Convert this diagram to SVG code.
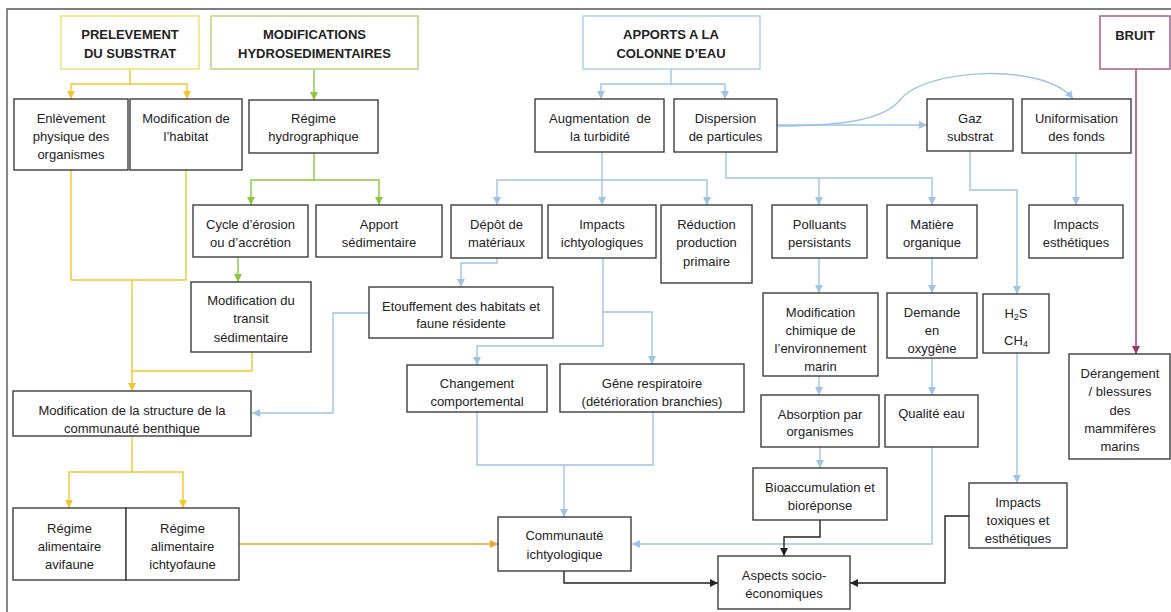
<svg xmlns="http://www.w3.org/2000/svg" width="1171" height="612" viewBox="0 0 1171 612">
<style>
text{font-family:"Liberation Sans",Arial,sans-serif;font-size:13px;fill:#222;text-anchor:middle}
.t{font-weight:bold}
.box{fill:#fff;stroke:#3c3c3c;stroke-width:1.4}
.c{fill:none;stroke-width:1.4}
.y{stroke:#f2c62e}
.g{stroke:#8cc63f}
.b{stroke:#9dc3e6}
.p{stroke:#9c3566}
.o{stroke:#f5a031}
.k{stroke:#222}
</style>
<defs>
<marker id="ay" viewBox="0 0 10 10" refX="10" refY="5" markerWidth="8" markerHeight="8" markerUnits="userSpaceOnUse" orient="auto"><path d="M0,0 L10,5 L0,10 z" fill="#f2c62e"/></marker>
<marker id="ag" viewBox="0 0 10 10" refX="10" refY="5" markerWidth="8" markerHeight="8" markerUnits="userSpaceOnUse" orient="auto"><path d="M0,0 L10,5 L0,10 z" fill="#8cc63f"/></marker>
<marker id="ab" viewBox="0 0 10 10" refX="10" refY="5" markerWidth="8" markerHeight="8" markerUnits="userSpaceOnUse" orient="auto"><path d="M0,0 L10,5 L0,10 z" fill="#9dc3e6"/></marker>
<marker id="ap" viewBox="0 0 10 10" refX="10" refY="5" markerWidth="8" markerHeight="8" markerUnits="userSpaceOnUse" orient="auto"><path d="M0,0 L10,5 L0,10 z" fill="#9c3566"/></marker>
<marker id="ao" viewBox="0 0 10 10" refX="10" refY="5" markerWidth="8" markerHeight="8" markerUnits="userSpaceOnUse" orient="auto"><path d="M0,0 L10,5 L0,10 z" fill="#f5a031"/></marker>
<marker id="ak" viewBox="0 0 10 10" refX="10" refY="5" markerWidth="8" markerHeight="8" markerUnits="userSpaceOnUse" orient="auto"><path d="M0,0 L10,5 L0,10 z" fill="#222"/></marker>
</defs>
<rect width="1171" height="612" fill="#fff"/>
<path d="M7,612 V9 H1171" fill="none" stroke="#555" stroke-width="1.4"/>

<g id="connectors">
<path class="c y" d="M130,69 V84 H71 V99" marker-end="url(#ay)"/>
<path class="c y" d="M130,84 H187 V99" marker-end="url(#ay)"/>
<path class="c y" d="M71,170 V280 H186 V170"/>
<path class="c y" d="M132,280 V391" marker-end="url(#ay)"/>
<path class="c y" d="M252,352 V371 H132"/>
<path class="c y" d="M132,436 V472 H69 V508" marker-end="url(#ay)"/>
<path class="c y" d="M132,472 H183 V508" marker-end="url(#ay)"/>

<path class="c g" d="M314,69 V100" marker-end="url(#ag)"/>
<path class="c g" d="M314,153 V180 H251 V205" marker-end="url(#ag)"/>
<path class="c g" d="M314,180 H379 V205" marker-end="url(#ag)"/>
<path class="c g" d="M238,257 V282" marker-end="url(#ag)"/>

<path class="c b" d="M671,69 V84 H601 V99" marker-end="url(#ab)"/>
<path class="c b" d="M671,84 H725 V99" marker-end="url(#ab)"/>
<path class="c b" d="M602,152 V205" marker-end="url(#ab)"/>
<path class="c b" d="M602,180 H497 V205" marker-end="url(#ab)"/>
<path class="c b" d="M602,180 H707 V205" marker-end="url(#ab)"/>
<path class="c b" d="M726,152 V178 H932 V205" marker-end="url(#ab)"/>
<path class="c b" d="M819,178 V205" marker-end="url(#ab)"/>
<path class="c b" d="M777,125 H927" marker-end="url(#ab)"/>
<path class="c b" d="M777,126 C850,126 885,118 900,100 C925,68 1045,62 1073,99" marker-end="url(#ab)"/>
<path class="c b" d="M970,151 V190 H1017 V294" marker-end="url(#ab)"/>
<path class="c b" d="M1076,153 V205" marker-end="url(#ab)"/>
<path class="c b" d="M497,258 V263 H461 V287" marker-end="url(#ab)"/>
<path class="c b" d="M369,313 H333 V413 H252" marker-end="url(#ab)"/>
<path class="c b" d="M603,258 V346 H477 V365" marker-end="url(#ab)"/>
<path class="c b" d="M603,312 H652 V364" marker-end="url(#ab)"/>
<path class="c b" d="M819,258 V293" marker-end="url(#ab)"/>
<path class="c b" d="M819,376 V395" marker-end="url(#ab)"/>
<path class="c b" d="M820,447 V468" marker-end="url(#ab)"/>
<path class="c b" d="M932,258 V293" marker-end="url(#ab)"/>
<path class="c b" d="M932,358 V395" marker-end="url(#ab)"/>
<path class="c b" d="M932,447 V544 H632" marker-end="url(#ab)"/>
<path class="c b" d="M1017,353 V483" marker-end="url(#ab)"/>
<path class="c b" d="M477,412 V465 H653 V412"/>
<path class="c b" d="M564,465 V517" marker-end="url(#ab)"/>

<path class="c p" d="M1136,69 V354" marker-end="url(#ap)"/>
<path class="c o" d="M239,544 H498" marker-end="url(#ao)"/>

<path class="c k" d="M820,520 V537 H784 V556" marker-end="url(#ak)"/>
<path class="c k" d="M564,571 V583 H718" marker-end="url(#ak)"/>
<path class="c k" d="M969,516 H945 V583 H850" marker-end="url(#ak)"/>
</g>

<g id="prelevement"><rect x="61" y="16" width="138" height="53" fill="#fff" stroke="#f5e07a" stroke-width="1.6"/><text class="t" x="130" y="39">PRELEVEMENT</text><text class="t" x="130" y="58">DU SUBSTRAT</text></g>
<g id="modifications"><rect x="211" y="16" width="207" height="53" fill="#fff" stroke="#bcd97c" stroke-width="1.6"/><text class="t" x="314.5" y="39">MODIFICATIONS</text><text class="t" x="314.5" y="58">HYDROSEDIMENTAIRES</text></g>
<g id="apports"><rect x="583" y="16" width="177" height="53" fill="#fff" stroke="#b3d2ee" stroke-width="1.6"/><text class="t" x="671" y="39">APPORTS A LA</text><text class="t" x="671" y="58">COLONNE D’EAU</text></g>
<g id="bruit"><rect x="1100" y="16" width="70" height="53" fill="#fff" stroke="#a86c8e" stroke-width="1.6"/><text class="t" x="1135" y="40">BRUIT</text></g>

<g id="enlevement"><rect class="box" x="14" y="99" width="114" height="71"/><text x="71" y="123">Enlèvement</text><text x="71" y="141">physique des</text><text x="71" y="159">organismes</text></g>
<g id="habitat"><rect class="box" x="130" y="99" width="112" height="71"/><text x="186" y="123">Modification de</text><text x="186" y="141">l’habitat</text></g>
<g id="regime-hydro"><rect class="box" x="249" y="100" width="129" height="53"/><text x="313.5" y="123">Régime</text><text x="313.5" y="141">hydrographique</text></g>
<g id="augmentation"><rect class="box" x="535" y="99" width="129" height="53"/><text x="600" y="123" xml:space="preserve">Augmentation  de</text><text x="600" y="141">la turbidité</text></g>
<g id="dispersion"><rect class="box" x="674" y="99" width="103" height="53"/><text x="725.5" y="123">Dispersion</text><text x="725.5" y="141">de particules</text></g>
<g id="gaz"><rect class="box" x="927" y="99" width="86" height="52"/><text x="970" y="123">Gaz</text><text x="970" y="141">substrat</text></g>
<g id="uniformisation"><rect class="box" x="1022" y="99" width="109" height="54"/><text x="1076.5" y="123">Uniformisation</text><text x="1076.5" y="141">des fonds</text></g>

<g id="cycle"><rect class="box" x="193" y="205" width="115" height="52"/><text x="250.5" y="229">Cycle d’érosion</text><text x="250.5" y="247">ou d’accrétion</text></g>
<g id="apport"><rect class="box" x="316" y="205" width="126" height="52"/><text x="379" y="229">Apport</text><text x="379" y="247">sédimentaire</text></g>
<g id="depot"><rect class="box" x="451" y="205" width="91" height="53"/><text x="496.5" y="229">Dépôt de</text><text x="496.5" y="247">matériaux</text></g>
<g id="impacts-ichtyo"><rect class="box" x="548" y="205" width="108" height="53"/><text x="602" y="229">Impacts</text><text x="602" y="247">ichtyologiques</text></g>
<g id="reduction"><rect class="box" x="661" y="205" width="91" height="78"/><text x="706.5" y="229">Réduction</text><text x="706.5" y="247">production</text><text x="706.5" y="266">primaire</text></g>
<g id="polluants"><rect class="box" x="772" y="205" width="95" height="53"/><text x="819.5" y="229">Polluants</text><text x="819.5" y="247">persistants</text></g>
<g id="matiere"><rect class="box" x="887" y="205" width="90" height="53"/><text x="932" y="229">Matière</text><text x="932" y="247">organique</text></g>
<g id="impacts-esth"><rect class="box" x="1029" y="205" width="94" height="53"/><text x="1076" y="229">Impacts</text><text x="1076" y="247">esthétiques</text></g>

<g id="transit"><rect class="box" x="191" y="282" width="120" height="70"/><text x="251" y="305">Modification du</text><text x="251" y="323">transit</text><text x="251" y="342">sédimentaire</text></g>
<g id="etouffement"><rect class="box" x="369" y="287" width="184" height="51"/><text x="461" y="311">Etouffement des habitats et</text><text x="461" y="328">faune résidente</text></g>
<g id="chimique"><rect class="box" x="763" y="293" width="115" height="83"/><text x="820.5" y="317">Modification</text><text x="820.5" y="335">chimique de</text><text x="820.5" y="353">l’environnement</text><text x="820.5" y="371">marin</text></g>
<g id="demande"><rect class="box" x="887" y="293" width="90" height="65"/><text x="932" y="317">Demande</text><text x="932" y="335">en</text><text x="932" y="353">oxygène</text></g>
<g id="h2s"><rect class="box" x="983" y="294" width="66" height="59"/><text x="1016" y="318">H<tspan font-size="9" dy="2">2</tspan><tspan dy="-2">S</tspan></text><text x="1016" y="345">CH<tspan font-size="9" dy="2">4</tspan></text></g>
<g id="derangement"><rect class="box" x="1069" y="354" width="101" height="105"/><text x="1120" y="378">Dérangement</text><text x="1120" y="396">/ blessures</text><text x="1120" y="415">des</text><text x="1120" y="433">mammifères</text><text x="1120" y="451">marins</text></g>
<g id="changement"><rect class="box" x="407" y="365" width="140" height="47"/><text x="477" y="388">Changement</text><text x="477" y="406">comportemental</text></g>
<g id="gene"><rect class="box" x="560" y="364" width="184" height="48"/><text x="652" y="388">Gêne respiratoire</text><text x="652" y="406">(détérioration branchies)</text></g>
<g id="absorption"><rect class="box" x="761" y="395" width="118" height="52"/><text x="820" y="419">Absorption par</text><text x="820" y="436">organismes</text></g>
<g id="qualite"><rect class="box" x="885" y="395" width="93" height="52"/><text x="931.5" y="418">Qualité eau</text></g>
<g id="structure"><rect class="box" x="13" y="391" width="238" height="45"/><text x="132" y="415">Modification de la structure de la</text><text x="132" y="433">communauté benthique</text></g>
<g id="bioaccumulation"><rect class="box" x="753" y="468" width="134" height="52"/><text x="820" y="492">Bioaccumulation et</text><text x="820" y="510">bioréponse</text></g>
<g id="toxiques"><rect class="box" x="969" y="483" width="98" height="65"/><text x="1018" y="507">Impacts</text><text x="1018" y="525">toxiques et</text><text x="1018" y="543">esthétiques</text></g>
<g id="avifaune"><rect class="box" x="13" y="508" width="113" height="72"/><text x="69.5" y="533">Régime</text><text x="69.5" y="551">alimentaire</text><text x="69.5" y="569">avifaune</text></g>
<g id="ichtyofaune"><rect class="box" x="126" y="508" width="113" height="72"/><text x="182.5" y="533">Régime</text><text x="182.5" y="551">alimentaire</text><text x="182.5" y="569">ichtyofaune</text></g>
<g id="communaute"><rect class="box" x="498" y="517" width="133" height="54"/><text x="564.5" y="540">Communauté</text><text x="564.5" y="559">ichtyologique</text></g>
<g id="aspects"><rect class="box" x="718" y="556" width="132" height="53"/><text x="784" y="580">Aspects socio-</text><text x="784" y="598">économiques</text></g>
</svg>
